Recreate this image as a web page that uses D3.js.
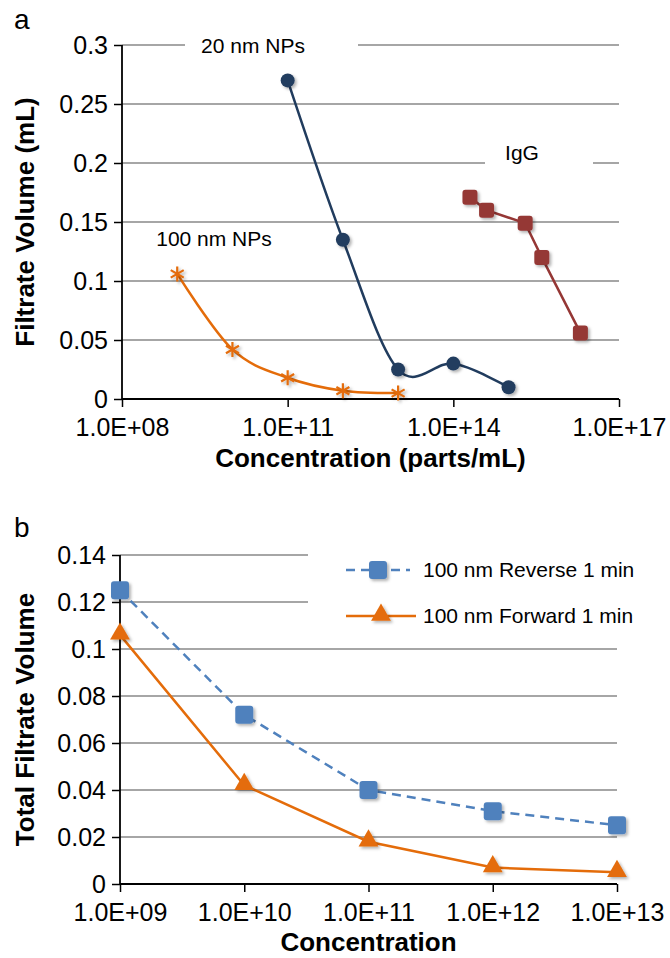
<!DOCTYPE html>
<html>
<head>
<meta charset="utf-8">
<script src="https://cdn.jsdelivr.net/npm/d3@7"></script>
<style>
  body { margin: 0; background: #fff; }
  svg text { font-family: "Liberation Sans", Arial, sans-serif; fill: #000; }
</style>
</head>
<body>
<svg width="670" height="958"></svg>
<script>
// ---- data: panel a ----
var concNP20 = [1e11, 1e12, 1e13, 1e14, 1e15];
var volNP20 = [0.27, 0.135, 0.025, 0.03, 0.01];
var concNP100 = [1e9, 1e10, 1e11, 1e12, 1e13];
var volNP100 = [0.106, 0.042, 0.018, 0.007, 0.005];
var concIgG = [2e14, 4e14, 2e15, 4e15, 2e16];
var volIgG = [0.171, 0.16, 0.149, 0.12, 0.056];
var xTicksA = [1e8, 1e11, 1e14, 1e17];
var xLabelsA = ['1.0E+08', '1.0E+11', '1.0E+14', '1.0E+17'];
var yTicksA = [0, 0.05, 0.1, 0.15, 0.2, 0.25, 0.3];
var yLabelsA = ['0', '0.05', '0.1', '0.15', '0.2', '0.25', '0.3'];

// ---- data: panel b ----
var concB = [1e9, 1e10, 1e11, 1e12, 1e13];
var volReverse = [0.125, 0.072, 0.04, 0.031, 0.025];
var volForward = [0.106, 0.042, 0.018, 0.007, 0.005];
var seriesNamesB = ['100 nm Reverse 1 min', '100 nm Forward 1 min'];
var xLabelsB = ['1.0E+09', '1.0E+10', '1.0E+11', '1.0E+12', '1.0E+13'];
var yTicksB = [0, 0.02, 0.04, 0.06, 0.08, 0.1, 0.12, 0.14];
var yLabelsB = ['0', '0.02', '0.04', '0.06', '0.08', '0.1', '0.12', '0.14'];

var svg = d3.select('svg');

var navy = '#213c5e', orange = '#e46c0a', red = '#953735', blue = '#4f81bd';
var gridColor = '#888';

var defs = svg.append('defs');
var shadow = defs.append('filter').attr('id', 'shadow')
    .attr('x', '-50%').attr('y', '-50%').attr('width', '200%').attr('height', '200%');
shadow.append('feDropShadow')
    .attr('dx', 2).attr('dy', 2).attr('stdDeviation', 1.8)
    .attr('flood-color', '#000').attr('flood-opacity', 0.3);

function zip(xs, ys) {
    return xs.map(function(x, i) { return {x: x, y: ys[i]}; });
}

// draw axes + grid for one panel
function drawFrame(g, x, y, xTicks, xLabels, yTicks, yLabels, x0, x1) {
    g.selectAll('.grid').data(yTicks.slice(1)).enter().append('line')
        .attr('class', 'grid')
        .attr('x1', x0).attr('x2', x1)
        .attr('y1', function(d) { return y(d); })
        .attr('y2', function(d) { return y(d); })
        .attr('stroke', gridColor).attr('stroke-width', 1.5);

    var yAxis = g.append('g')
        .attr('transform', 'translate(' + x0 + ',0)')
        .call(d3.axisLeft(y).tickValues(yTicks).tickSize(8).tickPadding(6)
            .tickFormat(function(d, i) { return yLabels[i]; }));
    var xAxis = g.append('g')
        .attr('transform', 'translate(0,' + y(0) + ')')
        .call(d3.axisBottom(x).tickValues(xTicks).tickSize(8)
            .tickFormat(function(d, i) { return xLabels[i]; }));

    [yAxis, xAxis].forEach(function(a) {
        a.select('.domain').attr('stroke', '#000').attr('stroke-width', 1.8);
        a.selectAll('.tick line').attr('stroke', '#000').attr('stroke-width', 1.5);
        a.selectAll('.tick text').attr('font-size', 25)
            .attr('font-family', '"Liberation Sans", Arial, sans-serif').attr('fill', '#000');
    });
    yAxis.select('.domain').attr('d', 'M0,' + y(yTicks[yTicks.length - 1]) + 'V' + y(0));
    xAxis.select('.domain').attr('d', 'M' + x0 + ',0H' + x1);
    xAxis.selectAll('.tick text').attr('y', 37).attr('dy', 0);
}

// ===== panel a =====
var xA = d3.scaleLog().domain([1e8, 1e17]).range([122, 619]);
var yA = d3.scaleLinear().domain([0, 0.3]).range([399, 45]);
var gA = svg.append('g');
drawFrame(gA, xA, yA, xTicksA, xLabelsA, yTicksA, yLabelsA, 122, 619);

// white label boxes on the gridlines
var boxes = [
    {t: '20 nm NPs', x0: 185, x1: 358, cx: 253, cy: 45},
    {t: 'IgG', x0: 485, x1: 593, cx: 522, cy: 152},
    {t: '100 nm NPs', x0: 135, x1: 318, cx: 214, cy: 238}
];
boxes.forEach(function(b) {
    gA.append('rect').attr('x', b.x0).attr('y', b.cy - 14)
        .attr('width', b.x1 - b.x0).attr('height', 28).attr('fill', '#fff');
    gA.append('text').attr('x', b.cx).attr('y', b.cy + 7.5)
        .attr('text-anchor', 'middle').attr('font-size', 21).text(b.t);
});

var smooth = d3.line().curve(d3.curveCardinal.tension(0))
    .x(function(d) { return xA(d.x); }).y(function(d) { return yA(d.y); });
var straightA = d3.line()
    .x(function(d) { return xA(d.x); }).y(function(d) { return yA(d.y); });

var np100 = zip(concNP100, volNP100);
var np20 = zip(concNP20, volNP20);
var igg = zip(concIgG, volIgG);

gA.append('path').datum(np100).attr('d', smooth)
    .attr('fill', 'none').attr('stroke', orange).attr('stroke-width', 2.5);
gA.append('path').datum(np20).attr('d', smooth)
    .attr('fill', 'none').attr('stroke', navy).attr('stroke-width', 2.5);
gA.append('path').datum(igg).attr('d', straightA)
    .attr('fill', 'none').attr('stroke', red).attr('stroke-width', 2.5);

// asterisk markers
var star = 'M0,-7.5V7.5M-6.5,-3.75L6.5,3.75M-6.5,3.75L6.5,-3.75';
gA.selectAll('.star').data(np100).enter().append('path')
    .attr('class', 'star')
    .attr('transform', function(d) { return 'translate(' + xA(d.x) + ',' + yA(d.y) + ')'; })
    .attr('d', star).attr('stroke', orange).attr('stroke-width', 2.2)
    .attr('fill', 'none').attr('filter', 'url(#shadow)');

gA.selectAll('.dot').data(np20).enter().append('circle')
    .attr('class', 'dot')
    .attr('cx', function(d) { return xA(d.x); })
    .attr('cy', function(d) { return yA(d.y); })
    .attr('r', 7).attr('fill', navy).attr('filter', 'url(#shadow)');

gA.selectAll('.sq').data(igg).enter().append('rect')
    .attr('class', 'sq')
    .attr('x', function(d) { return xA(d.x) - 7.5; })
    .attr('y', function(d) { return yA(d.y) - 7.5; })
    .attr('width', 15).attr('height', 15).attr('rx', 3)
    .attr('fill', red).attr('filter', 'url(#shadow)');

gA.append('text').attr('x', (122 + 619) / 2).attr('y', 467)
    .attr('text-anchor', 'middle').attr('font-size', 26).attr('font-weight', 'bold')
    .text('Concentration (parts/mL)');
gA.append('text').attr('transform', 'translate(34,' + (45 + 399) / 2 + ') rotate(-90)')
    .attr('text-anchor', 'middle').attr('font-size', 26).attr('font-weight', 'bold')
    .text('Filtrate Volume (mL)');
svg.append('text').attr('x', 14).attr('y', 29).attr('font-size', 28).text('a');

// ===== panel b =====
var xB = d3.scaleLog().domain([1e9, 1e13]).range([120, 617]);
var yB = d3.scaleLinear().domain([0, 0.14]).range([884, 555]);
var gB = svg.append('g');
drawFrame(gB, xB, yB, concB, xLabelsB, yTicksB, yLabelsB, 120, 617);

var lineB = d3.line()
    .x(function(d) { return xB(d.x); }).y(function(d) { return yB(d.y); });
var rev = zip(concB, volReverse);
var fwd = zip(concB, volForward);

// legend box hides the top gridlines
gB.append('rect').attr('x', 308).attr('y', 540).attr('width', 312).attr('height', 96).attr('fill', '#fff');

gB.append('path').datum(rev).attr('d', lineB)
    .attr('fill', 'none').attr('stroke', blue).attr('stroke-width', 2.5)
    .attr('stroke-dasharray', '9,6');
gB.append('path').datum(fwd).attr('d', lineB)
    .attr('fill', 'none').attr('stroke', orange).attr('stroke-width', 2.5);

var tri = d3.symbol().type(d3.symbolTriangle).size(170);
function drawSquareB(sel) {
    sel.append('rect').attr('x', -9).attr('y', -9).attr('width', 18).attr('height', 18)
        .attr('rx', 3).attr('fill', blue).attr('filter', 'url(#shadow)');
}
function drawTriB(sel) {
    sel.append('path').attr('d', tri).attr('transform', 'translate(0,-1)')
        .attr('fill', orange).attr('filter', 'url(#shadow)');
}

gB.selectAll('.rev').data(rev).enter().append('g')
    .attr('class', 'rev')
    .attr('transform', function(d) { return 'translate(' + xB(d.x) + ',' + yB(d.y) + ')'; })
    .call(drawSquareB);
gB.selectAll('.fwd').data(fwd).enter().append('g')
    .attr('class', 'fwd')
    .attr('transform', function(d) { return 'translate(' + xB(d.x) + ',' + yB(d.y) + ')'; })
    .call(drawTriB);

// legend
var leg = gB.append('g').attr('transform', 'translate(346,0)');
leg.append('line').attr('x1', 0).attr('x2', 64).attr('y1', 570).attr('y2', 570)
    .attr('stroke', blue).attr('stroke-width', 2.5).attr('stroke-dasharray', '9,6');
leg.append('g').attr('transform', 'translate(32,570)').call(drawSquareB);
leg.append('line').attr('x1', 0).attr('x2', 70).attr('y1', 616).attr('y2', 616)
    .attr('stroke', orange).attr('stroke-width', 2.5);
leg.append('g').attr('transform', 'translate(35,616)').call(drawTriB);
leg.selectAll('.lt').data(seriesNamesB).enter().append('text')
    .attr('class', 'lt')
    .attr('x', 77).attr('y', function(d, i) { return 577 + i * 46; })
    .attr('font-size', 21).text(function(d) { return d; });

gB.append('text').attr('x', (120 + 617) / 2).attr('y', 951)
    .attr('text-anchor', 'middle').attr('font-size', 26).attr('font-weight', 'bold')
    .text('Concentration');
gB.append('text').attr('transform', 'translate(34,' + (555 + 884) / 2 + ') rotate(-90)')
    .attr('text-anchor', 'middle').attr('font-size', 26).attr('font-weight', 'bold')
    .text('Total Filtrate Volume');
svg.append('text').attr('x', 14).attr('y', 537).attr('font-size', 28).text('b');
</script>
</body>
</html>
